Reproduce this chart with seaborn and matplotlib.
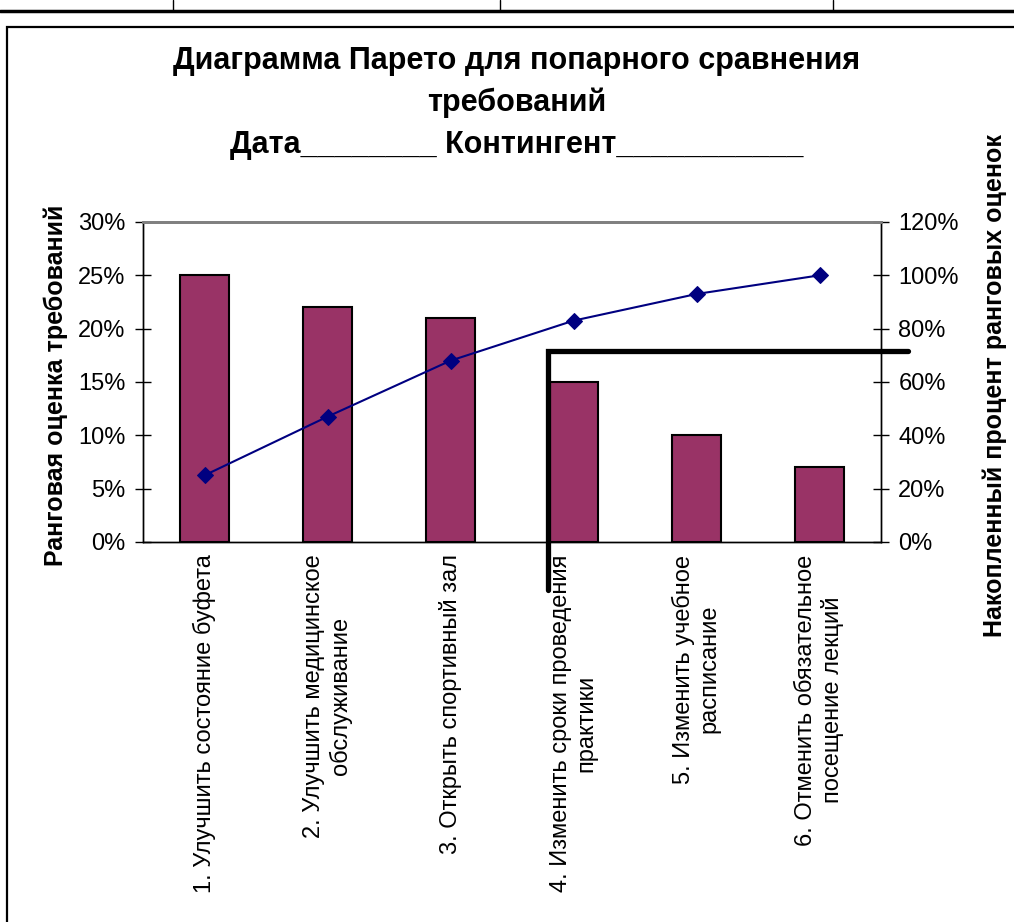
import numpy as np
import pandas as pd
import matplotlib
matplotlib.use("Agg")
import matplotlib.pyplot as plt
import seaborn as sns
from matplotlib.lines import Line2D
from matplotlib.patches import Rectangle

sns.set_theme(style="white")
plt.rcParams['font.family'] = ['Liberation Sans', 'DejaVu Sans']
plt.rcParams['text.color'] = 'black'
plt.rcParams['xtick.color'] = 'black'
plt.rcParams['ytick.color'] = 'black'

categories = [
    "1. Улучшить состояние буфета",
    "2. Улучшить медицинское\nобслуживание",
    "3. Открыть спортивный зал",
    "4. Изменить сроки проведения\nпрактики",
    "5. Изменить учебное\nрасписание",
    "6. Отменить обязательное\nпосещение лекций",
]
rank_share = [25, 22, 21, 15, 10, 7]
cumulative = [25, 47, 68, 83, 93, 100]
left_ticks = [0, 5, 10, 15, 20, 25, 30]
right_ticks = [0, 20, 40, 60, 80, 100, 120]
threshold_pct = 71.6

title = "Диаграмма Парето для попарного сравнения\nтребований\nДата________ Контингент___________"
ylabel_left = "Ранговая оценка требований"
ylabel_right = "Накопленный процент ранговых оценок"

BAR = "#993366"
LINE = "#000080"

W, H = 1014, 922
fig = plt.figure(figsize=(W / 100, H / 100), dpi=100)
fig.patch.set_facecolor("white")

ax = fig.add_axes([143 / W, 1 - 542 / H, (881 - 143) / W, (542 - 222) / H])
df = pd.DataFrame({"cat": categories, "val": rank_share})
sns.barplot(data=df, x="cat", y="val", color=BAR, width=0.4, edgecolor="black",
            linewidth=1.5, saturation=1, ax=ax)
ax.set_xlim(-0.5, len(categories) - 0.5)
ax.set_ylim(0, 30)
ax.set_yticks(left_ticks)
ax.set_yticklabels([f"{v}%" for v in left_ticks], fontsize=17)
ax.set_xticks(np.arange(len(categories)))
ax.set_xticklabels(categories, rotation=90, fontsize=17, va="top", ha="center",
                   multialignment="center")
ax.set_xticks(np.arange(len(categories) + 1) - 0.5, minor=True)
ax.tick_params(axis="x", which="major", length=0, pad=9)
ax.tick_params(axis="x", which="minor", direction="inout", length=11, width=1, color="black")
ax.tick_params(axis="y", direction="inout", length=11, width=1, color="black", pad=7,
               left=True)
ax.set_xlabel("")
ax.set_ylabel("")
for s in ["left", "bottom", "right"]:
    ax.spines[s].set_color("black")
    ax.spines[s].set_linewidth(1)
ax.spines["top"].set_color("#808080")
ax.spines["top"].set_linewidth(2)

ax2 = ax.twinx()
sns.lineplot(x=np.arange(len(categories)), y=cumulative, color=LINE, marker="D",
             markersize=8, markeredgecolor=LINE, linewidth=1.5, ax=ax2)
ax2.set_ylim(0, 120)
ax2.set_yticks(right_ticks)
ax2.set_yticklabels([f"{v}%" for v in right_ticks], fontsize=17)
ax2.tick_params(axis="y", direction="inout", length=11, width=1, color="black", pad=7,
                right=True)
ax2.set_xlim(-0.5, len(categories) - 0.5)
for s in ["left", "bottom", "right"]:
    ax2.spines[s].set_color("black")
    ax2.spines[s].set_linewidth(1)
ax2.spines["top"].set_color("#808080")
ax2.spines["top"].set_linewidth(2)
ax2.grid(False)
ax.grid(False)

# Pareto cut-off marker (thick L line)
ax2.plot([2.79, 2.79, 5.72], [-18, threshold_pct, threshold_pct], color="black",
         linewidth=3.8, clip_on=False, solid_joinstyle="miter", zorder=5)

fig.text(517 / W, 1 - 46 / H, title, ha="center", va="top", fontsize=22,
         fontweight="bold", linespacing=1.5, color="black")
fig.text(56 / W, 1 - 385 / H, ylabel_left, rotation=90, ha="center", va="center",
         fontsize=18, fontweight="bold", color="black")
fig.text(995 / W, 1 - 385 / H, ylabel_right, rotation=90, ha="center", va="center",
         fontsize=18, fontweight="bold", color="black")

# page frame and table lines
fig.add_artist(Rectangle((7 / W, -0.1), 1.2, (1 - 27 / H) + 0.1, transform=fig.transFigure,
                         fill=False, edgecolor="black", linewidth=1.6))
fig.add_artist(Line2D([0, 1], [1 - 11 / H] * 2, transform=fig.transFigure, color="black",
                      linewidth=2.5))
for xv in [173, 500, 833]:
    fig.add_artist(Line2D([xv / W] * 2, [1 - 11 / H, 1], transform=fig.transFigure,
                          color="black", linewidth=1))

fig.savefig("out.png", dpi=100)
